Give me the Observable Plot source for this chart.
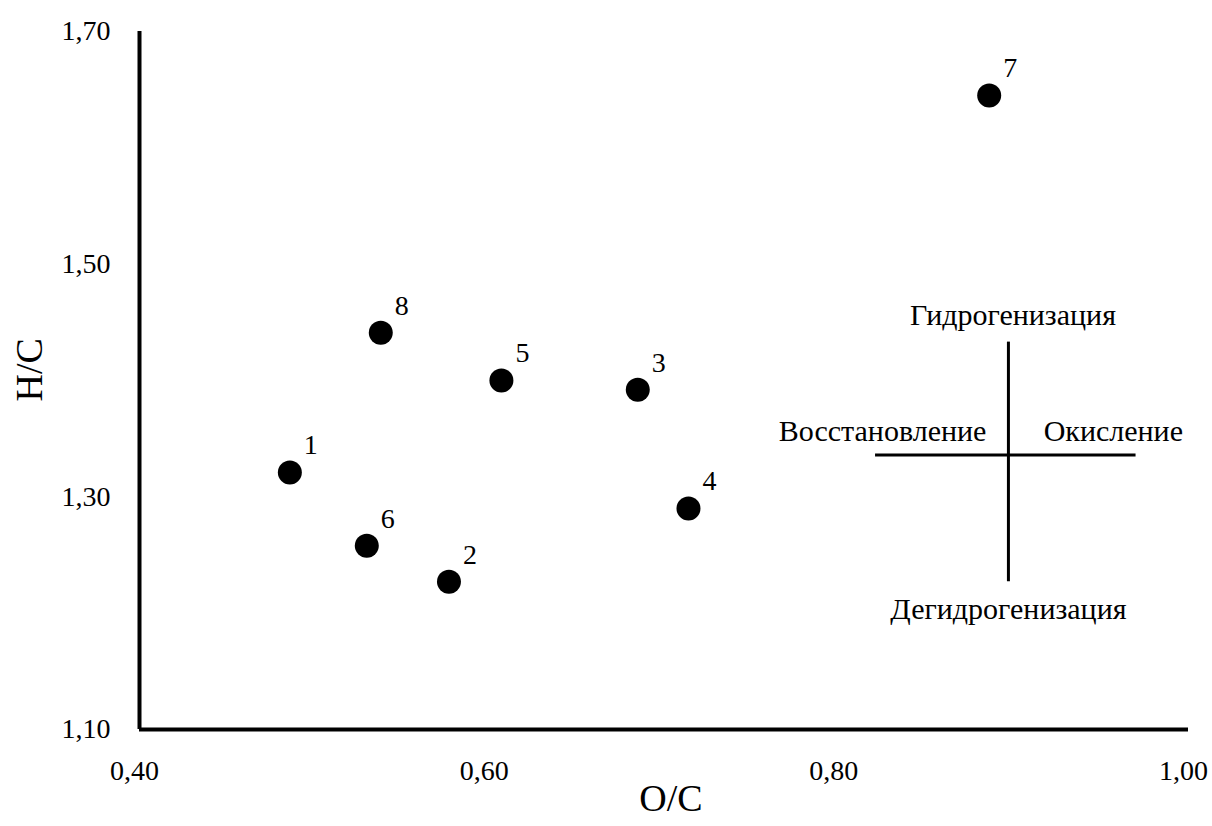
<!DOCTYPE html>
<html>
<head>
<meta charset="utf-8">
<script src="https://cdn.jsdelivr.net/npm/d3@7"></script>
<script src="https://cdn.jsdelivr.net/npm/@observablehq/plot@0.6"></script>
<style>
  html, body { margin: 0; padding: 0; background: #fff; }
</style>
</head>
<body>
<div id="chart"></div>
<script>
// Sample ids and their atomic ratios
const ids = ["1", "2", "3", "4", "5", "6", "7", "8"];
const oc  = [0.486, 0.577, 0.685, 0.714, 0.607, 0.530, 0.886, 0.538];
const hc  = [1.321, 1.227, 1.392, 1.290, 1.400, 1.258, 1.645, 1.441];

// Axis ticks
const xTicks = [0.40, 0.60, 0.80, 1.00];
const yTicks = [1.10, 1.30, 1.50, 1.70];

// Process-direction cross (data coordinates)
const crossCenterX = 0.897;
const crossCenterY = 1.336;
const crossXExtent = [0.821, 0.970];
const crossYExtent = [1.227, 1.433];
const crossLabels = ["Гидрогенизация", "Дегидрогенизация", "Восстановление", "Окисление"];
const crossLabelX = [0.8996, 0.897, 0.825, 0.957];
const crossLabelY = [1.456, 1.203, 1.356, 1.356];

const points = ids.map((id, i) => ({id, oc: oc[i], hc: hc[i]}));
const annots = crossLabels.map((t, i) => ({t, x: crossLabelX[i], y: crossLabelY[i]}));
const fmt = d => d.toFixed(2).replace(".", ",");

const chart = Plot.plot({
  width: 1212,
  height: 826,
  marginLeft: 139,
  marginRight: 24,
  marginTop: 31,
  marginBottom: 97,
  style: {fontFamily: "'Liberation Serif', 'Times New Roman', serif", fontSize: "28px", color: "#000", background: "#fff"},
  x: {domain: [0.40, 1.00]},
  y: {domain: [1.10, 1.70]},
  marks: [
    Plot.axisX({ticks: xTicks, tickSize: 0, tickPadding: 31, tickFormat: fmt, label: null, fontSize: 28, dx: -5}),
    Plot.axisY({ticks: yTicks, tickSize: 0, tickPadding: 29, tickFormat: fmt, label: null, fontSize: 28}),
    Plot.ruleX([0.40], {y1: 1.10, y2: 1.70, stroke: "#000", strokeWidth: 4}),
    Plot.ruleY([1.10], {x1: 0.40, x2: 1.00, stroke: "#000", strokeWidth: 4}),
    Plot.ruleX([crossCenterX], {y1: crossYExtent[0], y2: crossYExtent[1], stroke: "#000", strokeWidth: 3}),
    Plot.ruleY([crossCenterY], {x1: crossXExtent[0], x2: crossXExtent[1], stroke: "#000", strokeWidth: 3}),
    Plot.text(annots, {x: "x", y: "y", text: "t", fontSize: 30, fill: "#000"}),
    Plot.dot(points, {x: "oc", y: "hc", r: 12, fill: "#000", stroke: "none"}),
    Plot.text(points, {x: "oc", y: "hc", text: "id", dx: 21, dy: -27, fontSize: 28, fill: "#000"}),
    Plot.text(["O/C"], {frameAnchor: "bottom", dx: 7, dy: 81, fontSize: 38, fill: "#000"}),
    Plot.text(["H/C"], {frameAnchor: "left", dx: -110, dy: 21, rotate: -90, fontSize: 38, fill: "#000"})
  ]
});
document.getElementById("chart").appendChild(chart);
</script>
</body>
</html>
